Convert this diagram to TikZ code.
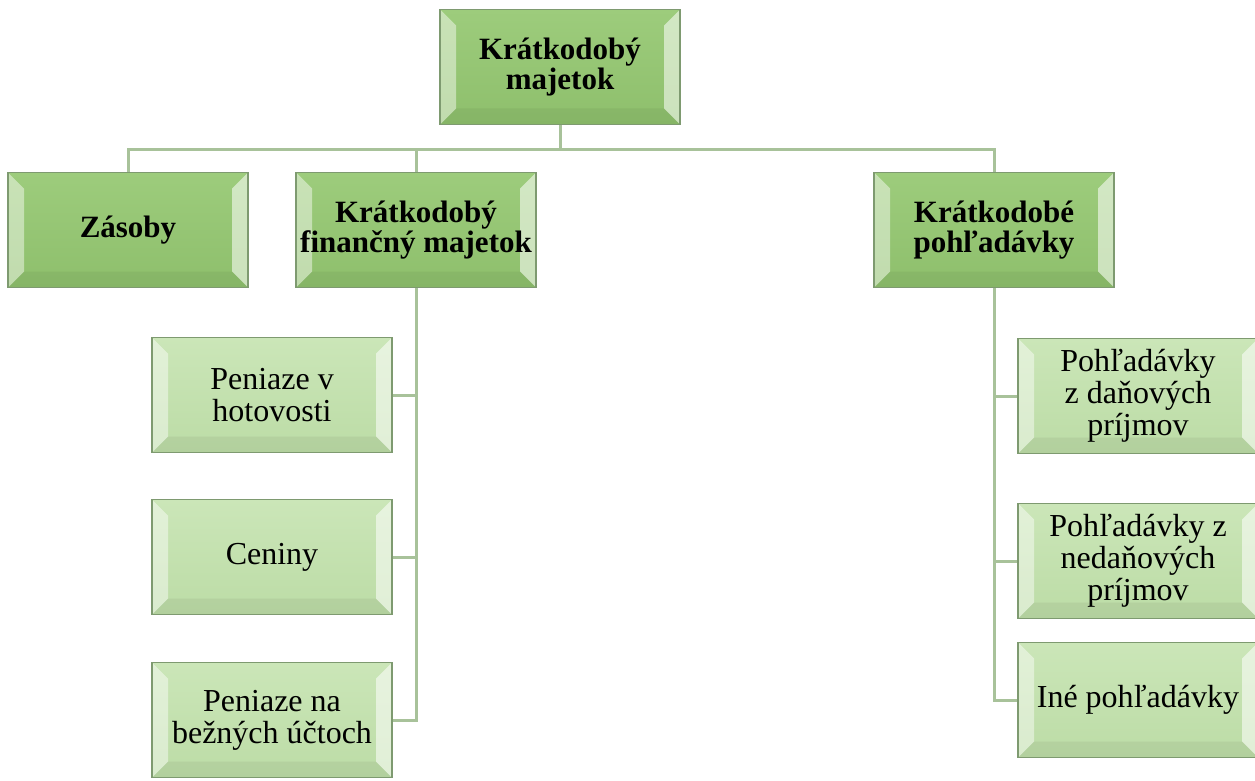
\documentclass[tikz,border=0pt]{standalone}
\usepackage{fontspec}
\setmainfont{Liberation Serif}
\definecolor{catgreen}{HTML}{9DCC7C}
\definecolor{catdark}{HTML}{8EBF6C}
\definecolor{subgreen}{HTML}{CBE6B8}
\definecolor{subdark}{HTML}{BCDCA6}
\definecolor{boxline}{HTML}{7E9A70}
\definecolor{linkgreen}{HTML}{A8C29A}

\begin{document}
\begin{tikzpicture}[x=1pt,y=-1pt]
  \tikzset{bevel/.style={path picture={
      \fill[white,opacity=.45] (path picture bounding box.north west) -- (path picture bounding box.south west)
        -- ([shift={(16pt,16pt)}]path picture bounding box.south west) -- ([shift={(16pt,-16pt)}]path picture bounding box.north west) -- cycle;
      \fill[white,opacity=.55] (path picture bounding box.north east) -- (path picture bounding box.south east)
        -- ([shift={(-16pt,16pt)}]path picture bounding box.south east) -- ([shift={(-16pt,-16pt)}]path picture bounding box.north east) -- cycle;
      \fill[black,opacity=.05] (path picture bounding box.south west) -- (path picture bounding box.south east)
        -- ([shift={(-16pt,16pt)}]path picture bounding box.south east) -- ([shift={(16pt,16pt)}]path picture bounding box.south west) -- cycle;}},
    card/.style={draw=boxline, line width=1.2pt, minimum width=240, minimum height=115, inner sep=0pt, align=center, bevel},
    catbox/.style={card, top color=catgreen, bottom color=catdark, font=\fontsize{31}{30}\selectfont\bfseries},
    subbox/.style={card, top color=subgreen, bottom color=subdark, font=\fontsize{32}{32}\selectfont},
    link/.style={draw=linkgreen, line width=3pt}}
  \useasboundingbox (0,0) rectangle (1255,781);

  % root and categories
  \node[catbox] (km) at (560,67) {Krátkodobý\\majetok};
  \node[catbox] (zas) at (128,230) {Zásoby};
  \node[catbox] (kfm) at (416,230) {Krátkodobý\\finančný majetok};
  \node[catbox] (kp) at (994,230) {Krátkodobé\\pohľadávky};

  % financial assets
  \node[subbox] (pvh) at (272,395) {Peniaze v\\hotovosti};
  \node[subbox] (cen) at (272,557) {Ceniny};
  \node[subbox] (pnu) at (272,720) {Peniaze na\\bežných účtoch};

  % receivables
  \node[subbox] (pdp) at (1138,396) {Pohľadávky\\z daňových\\príjmov};
  \node[subbox] (pnp) at (1138,561) {Pohľadávky z\\nedaňových\\príjmov};
  \node[subbox] (ipo) at (1138,700) {Iné pohľadávky};

  \draw[link] (km.south) -- ++(0,24) coordinate (hub);
  \draw[link] (hub) -| (zas.north);
  \draw[link] (hub) -| (kfm.north);
  \draw[link] (hub) -| (kp.north);
  \foreach \leaf in {pvh,cen,pnu}
    \draw[link] (kfm.south) |- (\leaf.east);
  \foreach \leaf in {pdp,pnp,ipo}
    \draw[link] (kp.south) |- (\leaf.west);
\end{tikzpicture}
\end{document}
